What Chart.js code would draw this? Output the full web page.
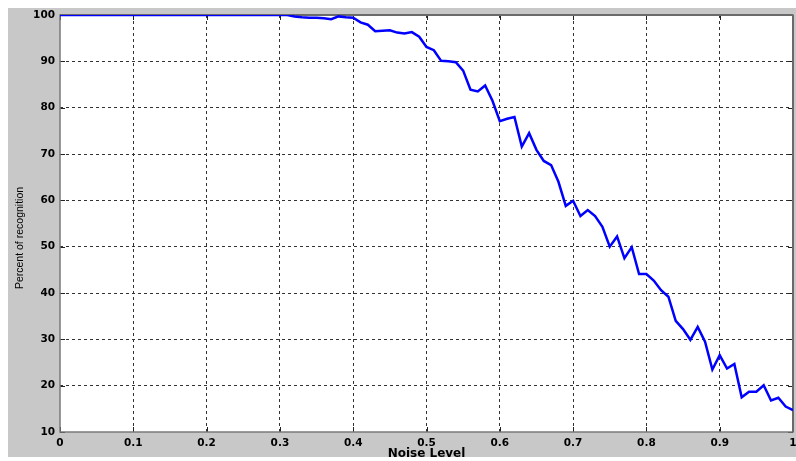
<!DOCTYPE html>
<html>
<head>
<meta charset="utf-8">
<script src="https://cdn.jsdelivr.net/npm/chart.js@4.4.1/dist/chart.umd.min.js"></script>
<style>
  html, body { margin: 0; padding: 0; background: #fff; }
  canvas { display: block; }
</style>
</head>
<body>
<canvas id="chart" width="796" height="461"></canvas>
<script>
// === DATA ===
const noiseLevels = [
  0, 0.01, 0.02, 0.03, 0.04, 0.05, 0.06, 0.07, 0.08, 0.09,
  0.1, 0.11, 0.12, 0.13, 0.14, 0.15, 0.16, 0.17, 0.18, 0.19,
  0.2, 0.21, 0.22, 0.23, 0.24, 0.25, 0.26, 0.27, 0.28, 0.29,
  0.3, 0.31, 0.32, 0.33, 0.34, 0.35, 0.36, 0.37, 0.38, 0.39,
  0.4, 0.41, 0.42, 0.43, 0.44, 0.45, 0.46, 0.47, 0.48, 0.49,
  0.5, 0.51, 0.52, 0.53, 0.54, 0.55, 0.56, 0.57, 0.58, 0.59,
  0.6, 0.61, 0.62, 0.63, 0.64, 0.65, 0.66, 0.67, 0.68, 0.69,
  0.7, 0.71, 0.72, 0.73, 0.74, 0.75, 0.76, 0.77, 0.78, 0.79,
  0.8, 0.81, 0.82, 0.83, 0.84, 0.85, 0.86, 0.87, 0.88, 0.89,
  0.9, 0.91, 0.92, 0.93, 0.94, 0.95, 0.96, 0.97, 0.98, 0.99,
  1
];
const recognition = [
  100, 100, 100, 100, 100, 100, 100, 100, 100, 100,
  100, 100, 100, 100, 100, 100, 100, 100, 100, 100,
  100, 100, 100, 100, 100, 100, 100, 100, 100, 100,
  100, 100, 99.7, 99.5, 99.4, 99.4, 99.3, 99.1, 99.7, 99.5,
  99.4, 98.4, 97.9, 96.5, 96.6, 96.7, 96.2, 96.0, 96.3, 95.3,
  93.1, 92.4, 90.1, 90.0, 89.8, 88.0, 83.9, 83.5, 84.8, 81.5,
  77.1, 77.6, 78.0, 71.6, 74.5, 70.9, 68.5, 67.6, 64.0, 58.8,
  59.9, 56.6, 57.9, 56.6, 54.3, 50.0, 52.2, 47.5, 49.9, 44.1,
  44.1, 42.7, 40.6, 39.2, 34.0, 32.2, 29.9, 32.7, 29.5, 23.5,
  26.6, 23.7, 24.7, 17.5, 18.7, 18.7, 20.1, 16.8, 17.4, 15.5,
  14.7
];
const xTickLabels = ['0', '0.1', '0.2', '0.3', '0.4', '0.5', '0.6', '0.7', '0.8', '0.9', '1'];
const yTickLabels = ['10', '20', '30', '40', '50', '60', '70', '80', '90', '100'];
const xAxisTitle = 'Noise Level';
const yAxisTitle = 'Percent of recognition';

const TICK_FONT = { family: "'DejaVu Sans', sans-serif", size: 10.5, weight: 'bold' };

// gray figure background + white axes area + box with inward ticks (matlab look)
const matlabFrame = {
  id: 'matlabFrame',
  beforeDraw(chart) {
    const { ctx, chartArea: a } = chart;
    ctx.save();
    ctx.fillStyle = '#c8c8c8';
    ctx.fillRect(8, 8, 788, 449);
    ctx.fillStyle = '#fff';
    ctx.fillRect(a.left, a.top, a.right - a.left, a.bottom - a.top);
    ctx.restore();
  },
  beforeDatasetsDraw(chart) {
    const { ctx, chartArea: a, scales } = chart;
    ctx.save();
    ctx.strokeStyle = '#222';
    ctx.lineWidth = 1;
    ctx.beginPath();
    scales.x.ticks.forEach((t, i) => {
      const px = Math.round(scales.x.getPixelForTick(i)) + 0.5;
      ctx.moveTo(px, a.bottom); ctx.lineTo(px, a.bottom - 5);
      ctx.moveTo(px, a.top); ctx.lineTo(px, a.top + 5);
    });
    scales.y.ticks.forEach((t, i) => {
      const py = Math.round(scales.y.getPixelForTick(i)) + 0.5;
      ctx.moveTo(a.left, py); ctx.lineTo(a.left + 5, py);
      ctx.moveTo(a.right, py); ctx.lineTo(a.right - 5, py);
    });
    ctx.stroke();
    ctx.strokeStyle = '#7a7a7a';
    ctx.lineWidth = 1.5;
    ctx.strokeRect(a.left, a.top, a.right - a.left, a.bottom - a.top);
    ctx.lineWidth = 2;
    ctx.strokeStyle = '#6a6a6a';
    ctx.beginPath();
    ctx.moveTo(a.right, a.top); ctx.lineTo(a.right, a.bottom);
    ctx.moveTo(a.left, a.top); ctx.lineTo(a.right, a.top);
    ctx.stroke();
    ctx.restore();
  },
  afterDraw(chart) {
    // ylabel sits a little below the axes centre in the original
    const { ctx } = chart;
    ctx.save();
    ctx.translate(20, 238);
    ctx.rotate(-Math.PI / 2);
    ctx.font = "10.5px 'Liberation Sans', Arial, sans-serif";
    ctx.fillStyle = '#000';
    ctx.textAlign = 'center';
    ctx.textBaseline = 'middle';
    ctx.fillText(yAxisTitle, 0, 0);
    ctx.restore();
  }
};

const gridColor = c => (c.index === 0 || c.index === c.scale.ticks.length - 1) ? 'rgba(0,0,0,0)' : '#333';

new Chart(document.getElementById('chart'), {
  type: 'line',
  data: {
    datasets: [{
      data: noiseLevels.map((x, i) => ({ x, y: recognition[i] })),
      borderColor: '#0000ff',
      borderWidth: 2.5,
      pointRadius: 0,
      tension: 0,
      fill: false
    }]
  },
  options: {
    responsive: false,
    animation: false,
    devicePixelRatio: 1,
    layout: { padding: { left: 0, top: 15, right: 3, bottom: 0 } },
    plugins: { legend: { display: false }, tooltip: { enabled: false } },
    scales: {
      x: {
        type: 'linear',
        min: 0, max: 1,
        afterFit: s => { s.height = 29; s.paddingLeft = 0; s.paddingRight = 0; },
        afterBuildTicks: s => { s.ticks = xTickLabels.map(v => ({ value: +v })); },
        grid: { color: gridColor, drawTicks: false, lineWidth: 1 },
        border: { display: false, dash: [3, 3] },
        ticks: {
          padding: 5, color: '#000', maxRotation: 0, autoSkip: false,
          font: TICK_FONT,
          callback: (v, i) => xTickLabels[i]
        },
        title: {
          display: true, text: xAxisTitle, color: '#000',
          font: { family: "'DejaVu Sans', sans-serif", size: 12, weight: 'bold' },
          padding: { top: 0, bottom: 0 }
        }
      },
      y: {
        min: 10, max: 100,
        afterFit: s => { s.width = 60; s.paddingTop = 0; s.paddingBottom = 0; },
        afterBuildTicks: s => { s.ticks = yTickLabels.map(v => ({ value: +v })); },
        grid: { color: gridColor, drawTicks: false, lineWidth: 1 },
        border: { display: false, dash: [3, 3] },
        ticks: {
          padding: 5, color: '#000', autoSkip: false,
          font: TICK_FONT,
          callback: (v, i) => yTickLabels[i]
        },
        title: { display: false }
      }
    }
  },
  plugins: [matlabFrame]
});
</script>
</body>
</html>
